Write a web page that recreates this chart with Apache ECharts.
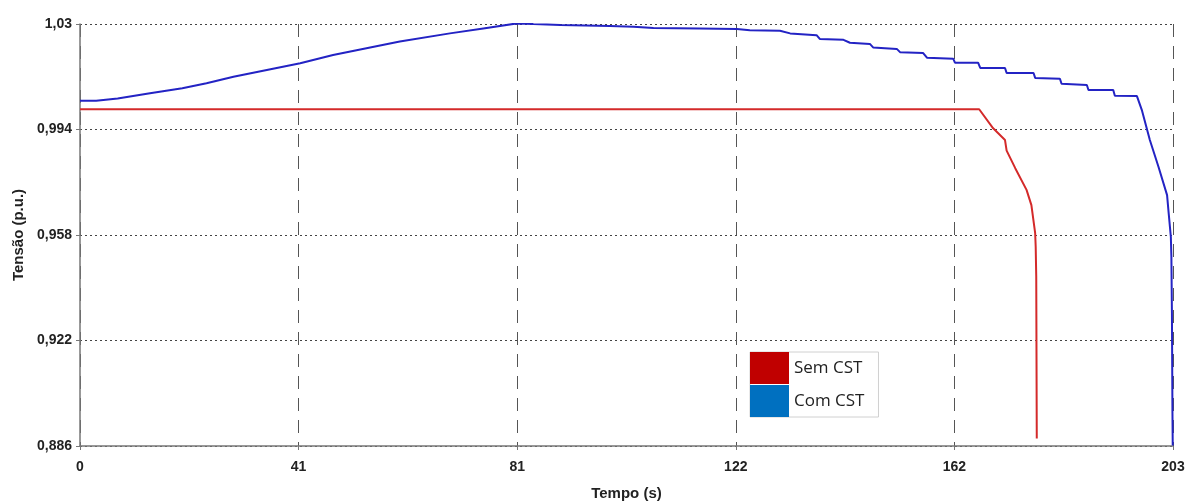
<!DOCTYPE html>
<html>
<head>
<meta charset="utf-8">
<script src="https://cdn.jsdelivr.net/npm/echarts@6/dist/echarts.min.js"></script>
<style>
  html, body { margin: 0; padding: 0; background: #fff; }
  #chart { width: 1186px; height: 501px; }
</style>
</head>
<body>
<div id="chart"></div>
<script>
// eixo x (s) e eixo y (p.u.)
var xTickLabels = ["0", "41", "81", "122", "162", "203"];
var yTickLabels = ["0,886", "0,922", "0,958", "0,994", "1,03"];

// Sem CST
var semTempo  = [0, 40, 81, 122, 162, 167, 169.6, 171.8, 172.1, 173.7, 175.8, 176.7, 177.4, 177.5, 177.6, 177.7];
var semTensao = [1.0009, 1.0009, 1.0009, 1.0009, 1.0009, 1.0009, 0.9944, 0.9904, 0.9868, 0.9808, 0.9734, 0.9682, 0.9586, 0.954, 0.9438, 0.8886];

// Com CST
var comTempo  = [0, 3, 7, 13, 19, 23.5, 28.5, 34.7, 40.9, 47, 53.2, 59.4, 68.7, 74.9, 81.1, 84.2, 89.2, 98.4, 102.8, 106.5, 115, 122, 124.4,
                 130, 131.9, 136.8, 137.4, 141.8, 143, 146.7, 147.3, 151.7, 152.3, 156.6, 157.3, 162.2, 162.5, 166.8, 167.2, 171.8, 172.1,
                 177.1, 177.4, 182, 182.3, 187, 187.3, 191.9, 192.2, 196.3, 197.2, 198.7, 200.3, 201.9, 202.2, 202.6, 202.7, 202.8, 202.9, 202.95];
var comTensao = [1.0038, 1.0038, 1.0046, 1.0064, 1.0081, 1.0098, 1.012, 1.0143, 1.0166, 1.0194, 1.0217, 1.024, 1.0268, 1.0285, 1.0302, 1.03, 1.0297, 1.0293, 1.0291, 1.0286, 1.0285, 1.0283, 1.0279,
                 1.0277, 1.0268, 1.0262, 1.0249, 1.0246, 1.0236, 1.0232, 1.022, 1.0215, 1.0204, 1.0201, 1.0185, 1.0181, 1.0168, 1.0168, 1.015, 1.015, 1.0133,
                 1.0133, 1.0116, 1.0113, 1.0096, 1.0092, 1.0075, 1.0075, 1.0055, 1.0054, 1.0007, 0.9904, 0.9813, 0.9716, 0.9654, 0.9574, 0.9506, 0.9313, 0.8971, 0.8862];

function pares(xs, ys) {
  return xs.map(function (x, i) { return [x, ys[i]]; });
}

var myChart = echarts.init(document.getElementById("chart"));
var fonte = "Liberation Sans, Arial, sans-serif";
var tickStyle = { color: "#222", fontSize: 14, fontWeight: "bold", fontFamily: fonte };
var nameStyle = { color: "#222", fontSize: 15, fontWeight: "bold", fontFamily: fonte };

var option = {
  animation: false,
  grid: { left: 80, right: 13, top: 24, bottom: 55, outerBoundsMode: "none" },
  legend: {
    orient: "vertical",
    left: 750,
    top: 352,
    icon: "rect",
    itemWidth: 39,
    itemHeight: 32,
    itemGap: 1,
    padding: [0, 14, 0, 0],
    backgroundColor: "#fff",
    borderColor: "#d0d0d0",
    borderWidth: 1,
    borderRadius: 0,
    textStyle: { color: "#222", fontSize: 17, fontFamily: "Open Sans, sans-serif" },
    data: [
      { name: "Sem CST", itemStyle: { color: "#c00000" } },
      { name: "Com CST", itemStyle: { color: "#0070c0" } }
    ]
  },
  xAxis: {
    type: "value",
    min: 0,
    max: 203,
    interval: 40.6,
    name: "Tempo (s)",
    nameLocation: "middle",
    nameGap: 40,
    nameTextStyle: nameStyle,
    axisLine: { lineStyle: { color: "#777", width: 1.5 } },
    axisTick: { show: true, length: 4, lineStyle: { color: "#777" } },
    axisLabel: Object.assign({
      margin: 14,
      formatter: function (v) { return xTickLabels[Math.round(v / 40.6)]; }
    }, tickStyle),
    splitLine: { show: true, lineStyle: { color: "#555", type: [13, 9], width: 1 } }
  },
  yAxis: {
    type: "value",
    min: 0.886,
    max: 1.03,
    interval: 0.036,
    name: "Tensão (p.u.)",
    nameLocation: "middle",
    nameGap: 48,
    nameTextStyle: nameStyle,
    axisLine: { show: true, lineStyle: { color: "#777", width: 1.5 } },
    axisTick: { show: true, length: 4, lineStyle: { color: "#777" } },
    axisLabel: Object.assign({
      margin: 8,
      formatter: function (v) { return yTickLabels[Math.round((v - 0.886) / 0.036)]; }
    }, tickStyle),
    splitLine: { show: true, lineStyle: { color: "#444", type: [2, 3], width: 1 } }
  },
  series: [
    {
      name: "Sem CST",
      type: "line",
      data: pares(semTempo, semTensao),
      showSymbol: false,
      itemStyle: { color: "#c00000" },
      lineStyle: { color: "#d42a2a", width: 2 },
      z: 3
    },
    {
      name: "Com CST",
      type: "line",
      data: pares(comTempo, comTensao),
      showSymbol: false,
      itemStyle: { color: "#0070c0" },
      lineStyle: { color: "#2323c4", width: 2 },
      z: 4
    }
  ]
};
myChart.setOption(option);
</script>
</body>
</html>
